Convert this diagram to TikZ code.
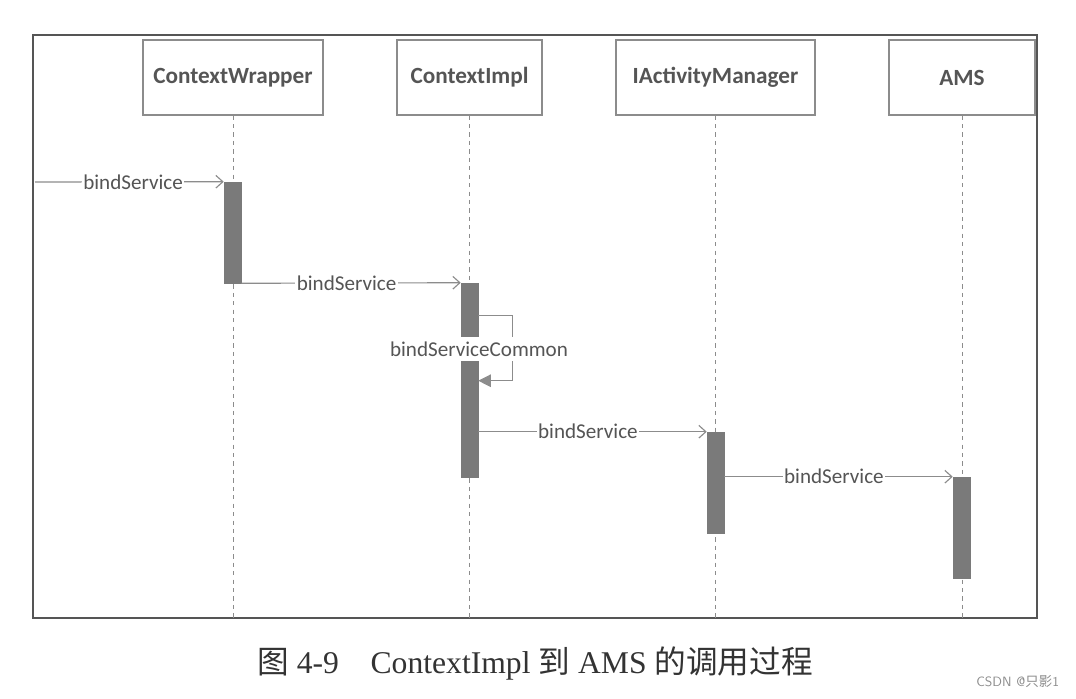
\documentclass[tikz,border=0pt]{standalone}
\usepackage{fontspec}
\setmainfont{Carlito}
\newfontfamily\capfont{Liberation Serif}
\newfontfamily\cjk{Noto Sans CJK SC}
\usetikzlibrary{arrows.meta}
\definecolor{linegray}{HTML}{8C8C8C}
\definecolor{actgray}{HTML}{7A7A7A}
\definecolor{txtgray}{HTML}{555555}
\begin{document}
\begin{tikzpicture}[x=0.025cm, y=-0.025cm,
  head/.style={draw=linegray, line width=0.8pt, fill=white, inner sep=0pt,
    minimum height=75*0.025cm, font=\fontsize{16.5}{18}\selectfont\bfseries, text=txtgray},
  act/.style={fill=actgray, draw=actgray, minimum width=17*0.025cm, inner sep=0pt},
  lifeline/.style={linegray, dashed, line width=0.6pt},
  msg/.style={linegray, line width=0.8pt, -{Straight Barb[length=5pt, width=9pt]}},
  lbl/.style={fill=white, inner sep=1pt, text=txtgray, font=\fontsize{15}{17}\selectfont}]
\useasboundingbox (0,0) rectangle (1076,698);
% frame
\draw[txtgray, line width=1.2pt] (33,35) rectangle (1037,618);
% heads
\node[head, minimum width=180*0.025cm] (cw) at (233,77.5) {ContextWrapper};
\node[head, minimum width=145*0.025cm] (ci) at (469.5,77.5) {ContextImpl};
\node[head, minimum width=199*0.025cm] (iam) at (715.5,77.5) {IActivityManager};
\node[head, minimum width=146*0.025cm] (ams) at (962,77.5) {AMS};
% lifelines
\coordinate (cwend) at (233,618);
\coordinate (ciend) at (469.5,618);
\coordinate (iamend) at (715.5,618);
\coordinate (amsend) at (962,618);
\draw[lifeline] (cw.south) -- (cwend);
\draw[lifeline] (ci.south) -- (ciend);
\draw[lifeline] (iam.south) -- (iamend);
\draw[lifeline] (ams.south) -- (amsend);
% activations
\node[act, minimum height=101*0.025cm] (a1) at (232.5,232.5) {};
\node[act, minimum height=194*0.025cm] (a2) at (469.5,380) {};
\node[act, minimum height=101*0.025cm] (a3) at (715.5,482.5) {};
\node[act, minimum height=101*0.025cm] (a4) at (961.5,527.5) {};
% messages
\coordinate (start) at (35,182);
\draw[msg] (start) -- node[lbl, pos=0.52]{bindService} (a1.north west);
\draw[msg] (a1.south east) -- node[lbl, pos=0.48]{bindService} (a2.north west);
\draw[linegray, line width=0.8pt, -{Triangle[length=9pt, width=9pt]}]
  ([yshift=-33*0.025cm]a2.north east) -| ++(34,0) |- ([yshift=-98*0.025cm]a2.north east);
\node[lbl, inner xsep=1pt, inner ysep=3pt] (bsc) at (479,349) {bindServiceCommon};
\draw[msg] ([yshift=-149*0.025cm]a2.north east) -- node[lbl, pos=0.48]{bindService} (a3.north west);
\draw[msg] ([yshift=-45*0.025cm]a3.north east) -- node[lbl, pos=0.48]{bindService} (a4.north west);
% caption
\node[text=black!80, font=\fontsize{22.5}{25}\selectfont] (cap) at (535,664)
  {{\cjk 图}\capfont\ 4-9\quad ContextImpl {\cjk 到} AMS {\cjk 的调用过程}};
\node[text=black!45, font=\sffamily\fontsize{9.6}{11}\selectfont, anchor=east] (wm) at (1064,682)
  {CSDN @{\cjk 只影}1};
\end{tikzpicture}
\end{document}
